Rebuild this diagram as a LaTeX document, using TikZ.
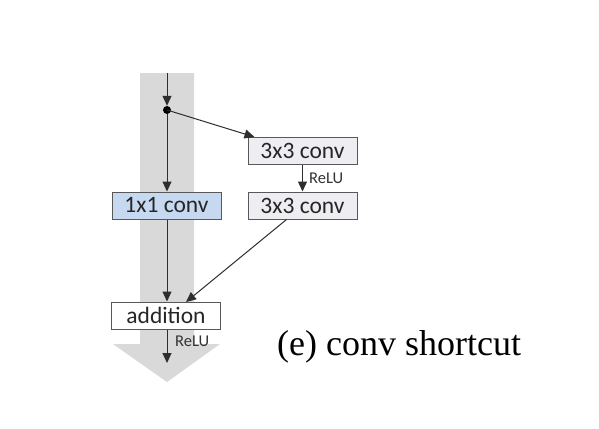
\documentclass[tikz,border=0pt]{standalone}
\usepackage{fontspec}
\setmainfont{Liberation Serif}
\newfontfamily\boxfont{Carlito}
\usetikzlibrary{arrows.meta}
\definecolor{shaftgray}{HTML}{D9D9D9}
\definecolor{convgray}{HTML}{EEEDF2}
\definecolor{convblue}{HTML}{C6D9F0}
\definecolor{linegray}{HTML}{2E2E2E}
\tikzset{
  blk/.style={draw=linegray!80, line width=1pt, minimum width=109pt, minimum height=27pt, inner sep=0pt, font=\boxfont\fontsize{23.5}{26}\selectfont, text=black!85},
  conn/.style={draw=linegray, line width=1pt, -{Triangle[length=10pt,width=9pt]}},
  relu/.style={font=\boxfont\fontsize{16.5}{18}\selectfont, text=black!80, inner sep=0pt}
}
\begin{document}
\begin{tikzpicture}[x=1pt,y=-1pt]
\useasboundingbox[fill=white] (0,0) rectangle (599,428);
% big gray arrow
\fill[shaftgray] (140,73) -- (194,73) -- (194,344) -- (220,344) -- (167,382) -- (113,344) -- (140,344) -- cycle;
% nodes
\coordinate (top) at (167,73);
\node[circle, fill=black, inner sep=0pt, minimum size=8pt] (dot) at (167,110) {};
\node[blk, fill=convblue] (c11) at (166.5,205.5) {1x1 conv};
\node[blk, fill=convgray] (c3a) at (302.5,151) {3x3 conv};
\node[blk, fill=convgray] (c3b) at (302.5,205.5) {3x3 conv};
\node[blk, fill=white] (add) at (166,315.5) {addition};
\coordinate (out) at (167,363);
% connectors
\draw[conn] (top) -- (dot.north);
\draw[conn] (dot) -- (c11.north -| dot);
\draw[conn] (dot.center) -- ([xshift=7pt]c3a.north west);
\draw[conn] (c3a.south) -- (c3b.north);
\draw[conn] (c11.south -| dot) -- (add.north -| dot);
\draw[conn] ([xshift=-16pt]c3b.south) -- (186,302);
\draw[conn] (add.south -| dot) -- (out);
\node[relu, anchor=west] (r1) at (309,178) {ReLU};
\node[relu, anchor=west] (r2) at (175,341) {ReLU};
% caption
\node[anchor=base west, inner sep=0pt, font=\fontsize{36}{40}\selectfont] (cap) at (277,355) {(e) conv shortcut};
\end{tikzpicture}
\end{document}
